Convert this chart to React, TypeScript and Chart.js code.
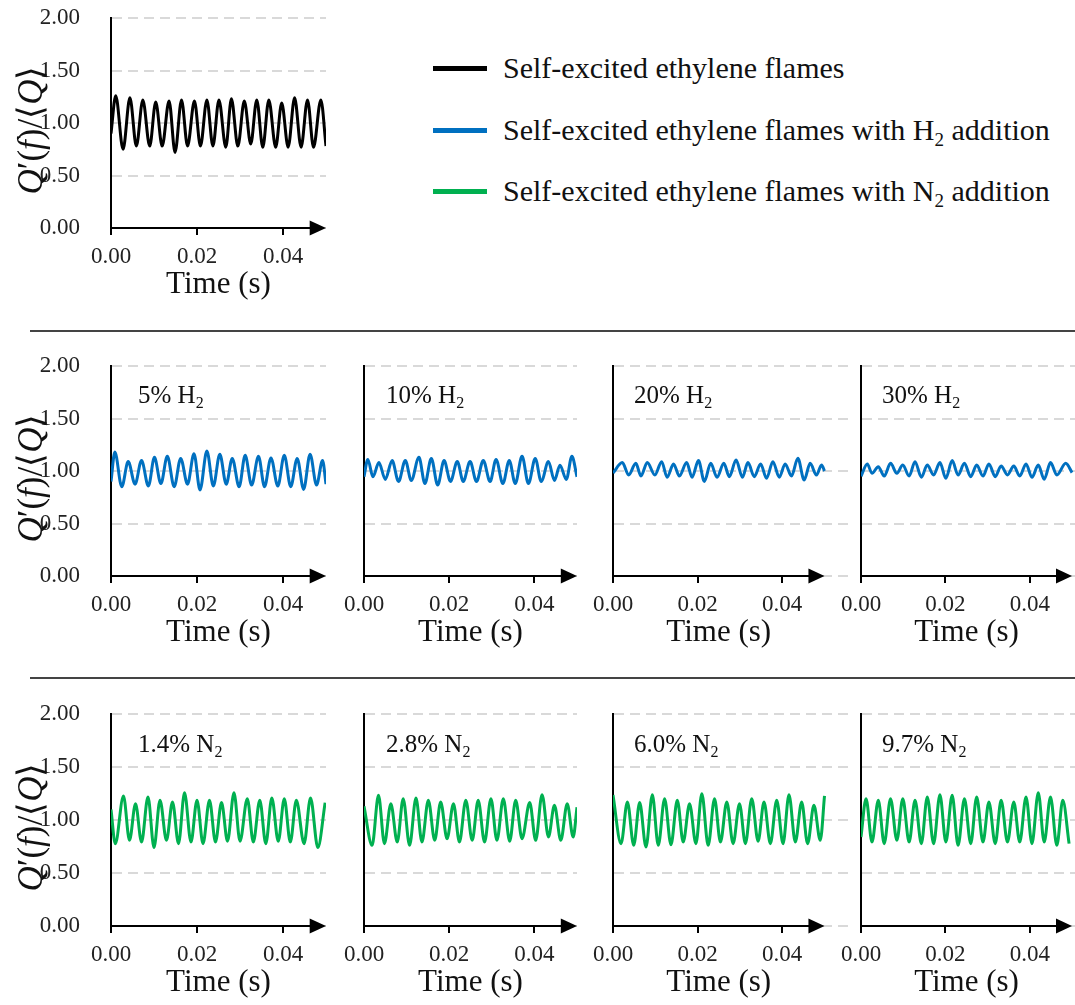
import React, { useEffect, useRef } from "react";
import { Chart, registerables } from "chart.js";
Chart.register(...registerables);

const FONT = '"Liberation Serif", "Times New Roman", serif';

// ---------- axis values / labels ----------
const X_TICKS = [0, 0.02, 0.04];
const Y_TICKS = [0, 0.5, 1.0, 1.5, 2.0];
const X_START = 0;
const X_END = 0.05;
const ARROW_BASE = 0.0462;
const ARROW_TIP = 0.05;
const Y_MIN = 0;
const Y_MAX = 2;
const X_TITLE = "Time (s)";
const Y_TITLE_PARTS: [string, boolean][] = [
  ["Q", true], ["\u2032(", false], ["f", true], [")/\u27E8", false], ["Q", true], ["\u27E9", false],
];

const LEGEND_ITEMS = [
  { pre: "Self-excited ethylene flames", sub: "", post: "" },
  { pre: "Self-excited ethylene flames with H", sub: "2", post: " addition" },
  { pre: "Self-excited ethylene flames with N", sub: "2", post: " addition" },
];
const SERIES_COLORS = ["#000000", "#0070C0", "#00B050"];

const H2_LABELS = ["5%", "10%", "20%", "30%"];
const N2_LABELS = ["1.4%", "2.8%", "6.0%", "9.7%"];

// ---------- data (peak / trough samples) ----------
const tBase = [0, 0.0011, 0.0028, 0.0044, 0.0059, 0.0074, 0.0090, 0.0104, 0.0119, 0.0135, 0.0149, 0.0164, 0.0178, 0.0194, 0.0208, 0.0223, 0.0237, 0.0251, 0.0267, 0.0280, 0.0295, 0.0310, 0.0325, 0.0339, 0.0353, 0.0367, 0.0383, 0.0397, 0.0412, 0.0427, 0.0442, 0.0457, 0.0471, 0.0488, 0.0500];
const qBase = [0.90, 1.26, 0.75, 1.24, 0.78, 1.22, 0.78, 1.20, 0.78, 1.21, 0.72, 1.22, 0.78, 1.21, 0.78, 1.22, 0.78, 1.22, 0.77, 1.23, 0.78, 1.21, 0.80, 1.22, 0.77, 1.22, 0.77, 1.19, 0.77, 1.24, 0.77, 1.22, 0.77, 1.22, 0.78];

const tH2_5 = [0, 0.0009, 0.0025, 0.0040, 0.0056, 0.0071, 0.0087, 0.0101, 0.0116, 0.0131, 0.0147, 0.0162, 0.0178, 0.0193, 0.0207, 0.0223, 0.0238, 0.0253, 0.0268, 0.0282, 0.0298, 0.0312, 0.0327, 0.0343, 0.0357, 0.0372, 0.0388, 0.0403, 0.0418, 0.0433, 0.0448, 0.0463, 0.0478, 0.0492, 0.0500];
const qH2_5 = [0.90, 1.18, 0.85, 1.09, 0.875, 1.10, 0.857, 1.13, 0.88, 1.14, 0.85, 1.12, 0.875, 1.165, 0.82, 1.19, 0.857, 1.16, 0.875, 1.12, 0.85, 1.15, 0.866, 1.14, 0.85, 1.125, 0.857, 1.15, 0.85, 1.12, 0.825, 1.16, 0.866, 1.10, 0.875];

const tH2_10 = [0, 0.0009, 0.0021, 0.0035, 0.0050, 0.0066, 0.0081, 0.0097, 0.0111, 0.0129, 0.0143, 0.0158, 0.0173, 0.0188, 0.0203, 0.0219, 0.0233, 0.0249, 0.0264, 0.0280, 0.0296, 0.0310, 0.0326, 0.0341, 0.0355, 0.0371, 0.0386, 0.0402, 0.0416, 0.0433, 0.0447, 0.0460, 0.0475, 0.0488, 0.0500];
const qH2_10 = [0.945, 1.11, 0.945, 1.08, 0.92, 1.10, 0.90, 1.10, 0.91, 1.13, 0.88, 1.12, 0.866, 1.10, 0.90, 1.09, 0.90, 1.09, 0.90, 1.10, 0.90, 1.11, 0.88, 1.10, 0.88, 1.14, 0.88, 1.12, 0.90, 1.09, 0.91, 1.055, 0.92, 1.14, 0.945];

const tH2_20 = [0, 0.0022, 0.0037, 0.0054, 0.0066, 0.0081, 0.0099, 0.0115, 0.0128, 0.0143, 0.0157, 0.0174, 0.0187, 0.0202, 0.0216, 0.0231, 0.0246, 0.0262, 0.0275, 0.0291, 0.0306, 0.0319, 0.0334, 0.0349, 0.0363, 0.0378, 0.0393, 0.0407, 0.0422, 0.0437, 0.0452, 0.0466, 0.0481, 0.0493, 0.0500];
const qH2_20 = [0.98, 1.08, 0.962, 1.073, 0.952, 1.08, 0.962, 1.089, 0.94, 1.067, 0.952, 1.08, 0.94, 1.099, 0.90, 1.073, 0.94, 1.073, 0.946, 1.105, 0.94, 1.08, 0.946, 1.067, 0.93, 1.089, 0.94, 1.067, 0.952, 1.121, 0.914, 1.073, 0.962, 1.057, 1.0];

const tH2_30 = [0, 0.0015, 0.0026, 0.0041, 0.0055, 0.0070, 0.0085, 0.0099, 0.0114, 0.0128, 0.0143, 0.0157, 0.0172, 0.0187, 0.0201, 0.0216, 0.0230, 0.0245, 0.0260, 0.0274, 0.0289, 0.0303, 0.0318, 0.0332, 0.0347, 0.0362, 0.0376, 0.0391, 0.0405, 0.0420, 0.0434, 0.0449, 0.0464, 0.0485, 0.0500];
const qH2_30 = [0.95, 1.067, 0.978, 1.041, 0.952, 1.073, 0.978, 1.057, 0.952, 1.089, 0.94, 1.057, 0.962, 1.08, 0.93, 1.099, 0.962, 1.073, 0.946, 1.057, 0.952, 1.067, 0.946, 1.048, 0.962, 1.048, 0.952, 1.067, 0.94, 1.057, 0.921, 1.08, 0.962, 1.073, 0.985];

const tN2_14 = [0, 0.0010, 0.0029, 0.0043, 0.0057, 0.0071, 0.0086, 0.0100, 0.0114, 0.0129, 0.0143, 0.0157, 0.0171, 0.0186, 0.0200, 0.0214, 0.0229, 0.0243, 0.0257, 0.0271, 0.0286, 0.0300, 0.0317, 0.0331, 0.0346, 0.0360, 0.0374, 0.0389, 0.0403, 0.0417, 0.0431, 0.0449, 0.0464, 0.0481, 0.0498];
const qN2_14 = [1.10, 0.777, 1.227, 0.808, 1.154, 0.792, 1.217, 0.74, 1.186, 0.808, 1.170, 0.777, 1.258, 0.792, 1.186, 0.777, 1.186, 0.792, 1.164, 0.80, 1.258, 0.80, 1.201, 0.792, 1.186, 0.777, 1.208, 0.80, 1.201, 0.792, 1.186, 0.777, 1.208, 0.74, 1.164];

const tN2_28 = [0, 0.0019, 0.0034, 0.0048, 0.0063, 0.0078, 0.0092, 0.0107, 0.0122, 0.0136, 0.0151, 0.0166, 0.0180, 0.0195, 0.0210, 0.0224, 0.0239, 0.0254, 0.0268, 0.0283, 0.0298, 0.0312, 0.0327, 0.0342, 0.0356, 0.0371, 0.0389, 0.0403, 0.0418, 0.0433, 0.0447, 0.0462, 0.0477, 0.0491, 0.0500];
const qN2_28 = [1.13, 0.761, 1.233, 0.777, 1.154, 0.792, 1.201, 0.761, 1.208, 0.792, 1.186, 0.808, 1.170, 0.824, 1.154, 0.792, 1.186, 0.808, 1.186, 0.792, 1.201, 0.808, 1.201, 0.80, 1.186, 0.824, 1.164, 0.808, 1.239, 0.840, 1.138, 0.808, 1.154, 0.840, 1.12];

const tN2_60 = [0, 0.0019, 0.0034, 0.0049, 0.0063, 0.0078, 0.0093, 0.0107, 0.0122, 0.0137, 0.0152, 0.0166, 0.0181, 0.0196, 0.0210, 0.0225, 0.0240, 0.0254, 0.0269, 0.0284, 0.0299, 0.0313, 0.0328, 0.0343, 0.0357, 0.0372, 0.0387, 0.0402, 0.0416, 0.0431, 0.0446, 0.0460, 0.0475, 0.0490, 0.0500];
const qN2_60 = [1.235, 0.777, 1.170, 0.761, 1.164, 0.745, 1.239, 0.761, 1.201, 0.767, 1.186, 0.792, 1.154, 0.777, 1.248, 0.761, 1.201, 0.792, 1.170, 0.777, 1.154, 0.777, 1.201, 0.80, 1.170, 0.777, 1.186, 0.777, 1.239, 0.792, 1.170, 0.777, 1.138, 0.808, 1.227];

const tN2_97 = [0, 0.0012, 0.0026, 0.0041, 0.0055, 0.0070, 0.0085, 0.0099, 0.0114, 0.0128, 0.0143, 0.0157, 0.0172, 0.0187, 0.0201, 0.0216, 0.0230, 0.0245, 0.0260, 0.0274, 0.0289, 0.0303, 0.0318, 0.0332, 0.0347, 0.0362, 0.0376, 0.0391, 0.0405, 0.0420, 0.0434, 0.0449, 0.0464, 0.0478, 0.0493];
const qN2_97 = [0.84, 1.201, 0.792, 1.186, 0.777, 1.201, 0.808, 1.201, 0.792, 1.186, 0.777, 1.217, 0.777, 1.239, 0.792, 1.233, 0.761, 1.201, 0.777, 1.217, 0.792, 1.170, 0.777, 1.186, 0.792, 1.170, 0.792, 1.217, 0.777, 1.258, 0.792, 1.217, 0.761, 1.186, 0.777];

// ---------- layout (pixels) ----------
const ROW_TOP = [18, 366, 714];     // pixel of y = 2.00
const ROW_BOTTOM = [228, 576, 926]; // pixel of y = 0.00
const COL_X0 = [111, 364, 613, 861];
const COL_PX_PER_S = [4300, 4250, 4230, 4220];
const COL_XMAX = [0.05, 0.05, 0.0565, 0.0507];
const LABEL_DX = [27, 22, 21, 21];
const LABEL_TOP = [0, 380, 729];

type Spec = { t: number[]; q: number[]; color: string; row: number; col: number };

const PANELS: Spec[] = [
  { t: tBase, q: qBase, color: SERIES_COLORS[0], row: 0, col: 0 },
  { t: tH2_5, q: qH2_5, color: SERIES_COLORS[1], row: 1, col: 0 },
  { t: tH2_10, q: qH2_10, color: SERIES_COLORS[1], row: 1, col: 1 },
  { t: tH2_20, q: qH2_20, color: SERIES_COLORS[1], row: 1, col: 2 },
  { t: tH2_30, q: qH2_30, color: SERIES_COLORS[1], row: 1, col: 3 },
  { t: tN2_14, q: qN2_14, color: SERIES_COLORS[2], row: 2, col: 0 },
  { t: tN2_28, q: qN2_28, color: SERIES_COLORS[2], row: 2, col: 1 },
  { t: tN2_60, q: qN2_60, color: SERIES_COLORS[2], row: 2, col: 2 },
  { t: tN2_97, q: qN2_97, color: SERIES_COLORS[2], row: 2, col: 3 },
];

function Panel({ spec }: { spec: Spec }) {
  const ref = useRef<HTMLCanvasElement>(null);
  const { row, col } = spec;
  const x0 = COL_X0[col];
  const plotH = ROW_BOTTOM[row] - ROW_TOP[row];
  const xMax = COL_XMAX[col];
  const plotW = Math.round(xMax * COL_PX_PER_S[col]);
  const leftExt = col === 0 ? x0 : 44;
  const padT = 16;
  const padR = 8;
  const xAxisH = 80;
  const W = leftExt + plotW + padR;
  const H = padT + plotH + xAxisH;
  const left = x0 - leftExt;
  const top = ROW_TOP[row] - padT;

  useEffect(() => {
    const canvas = ref.current;
    if (!canvas) return;
    const decor = {
      id: "decor",
      afterDraw(chart: any) {
        const { ctx } = chart;
        const xs = chart.scales.x;
        const ys = chart.scales.y;
        const y0 = ys.getPixelForValue(Y_MIN);
        const xa = xs.getPixelForValue(X_START);
        const xb = xs.getPixelForValue(ARROW_BASE);
        const xt = xs.getPixelForValue(ARROW_TIP);
        ctx.save();
        ctx.strokeStyle = "#000";
        ctx.lineWidth = 2;
        ctx.beginPath();
        ctx.moveTo(xa - 1, y0);
        ctx.lineTo(xb + 1, y0);
        ctx.stroke();
        ctx.fillStyle = "#000";
        ctx.beginPath();
        ctx.moveTo(xb, y0 - 7.5);
        ctx.lineTo(xt, y0);
        ctx.lineTo(xb, y0 + 7.5);
        ctx.closePath();
        ctx.fill();
        ctx.font = `31px ${FONT}`;
        ctx.textAlign = "center";
        ctx.textBaseline = "middle";
        ctx.fillStyle = "#111";
        ctx.fillText(X_TITLE, xs.getPixelForValue((X_START + X_END) / 2), y0 + 57);
        if (col === 0) {
          const cy = (ys.getPixelForValue(Y_MAX) + y0) / 2 + 7;
          ctx.translate(33, cy);
          ctx.rotate(-Math.PI / 2);
          ctx.textAlign = "left";
          const fonts = Y_TITLE_PARTS.map(([, it]) => `${it ? "italic " : ""}35px ${FONT}`);
          let total = 0;
          const widths = Y_TITLE_PARTS.map(([s], i) => {
            ctx.font = fonts[i];
            const w = ctx.measureText(s).width;
            total += w;
            return w;
          });
          let cx = -total / 2;
          Y_TITLE_PARTS.forEach(([s], i) => {
            ctx.font = fonts[i];
            ctx.fillText(s, cx, 0);
            cx += widths[i];
          });
        }
        ctx.restore();
      },
    };
    const chart = new Chart(canvas, {
      type: "line",
      data: {
        datasets: [
          {
            data: spec.t.map((t, i) => ({ x: t, y: spec.q[i] })),
            borderColor: spec.color,
            borderWidth: 3,
            pointRadius: 0,
            cubicInterpolationMode: "monotone",
            fill: false,
          },
        ],
      },
      options: {
        animation: false,
        responsive: false,
        devicePixelRatio: 1,
        events: [],
        layout: { padding: { left: 0, top: padT, right: padR, bottom: 0 } },
        plugins: { legend: { display: false }, tooltip: { enabled: false } },
        scales: {
          x: {
            type: "linear",
            min: X_START,
            max: xMax,
            afterBuildTicks: (s: any) => {
              s.ticks = X_TICKS.map((v) => ({ value: v }));
            },
            afterFit: (s: any) => {
              s.height = xAxisH;
            },
            ticks: {
              font: { family: FONT, size: 23 },
              color: "#222",
              padding: 8,
              maxRotation: 0,
              autoSkip: false,
              callback: (v: any) => Number(v).toFixed(2),
            },
            grid: {
              drawOnChartArea: false,
              drawTicks: true,
              tickLength: 7,
              tickColor: "#000",
              tickWidth: 2,
              color: "#000",
              lineWidth: 2,
            },
            border: { display: false },
          },
          y: {
            type: "linear",
            min: Y_MIN,
            max: Y_MAX,
            afterBuildTicks: (s: any) => {
              s.ticks = Y_TICKS.map((v) => ({ value: v }));
            },
            afterFit: (s: any) => {
              s.width = leftExt;
            },
            ticks: {
              display: col === 0,
              font: { family: FONT, size: 23 },
              color: "#222",
              padding: 0,
              callback: (v: any) => Number(v).toFixed(2),
            },
            grid: {
              color: "#d9d9d9",
              lineWidth: 2,
              drawTicks: col === 0,
              tickLength: 31,
              tickColor: "rgba(0,0,0,0)",
            },
            border: { display: true, color: "#000", width: 2, dash: [10, 6] },
          },
        },
      } as any,
      plugins: [decor],
    });
    return () => chart.destroy();
  }, []);

  return (
    <canvas
      ref={ref}
      width={W}
      height={H}
      style={{ position: "absolute", left, top, width: W, height: H }}
    />
  );
}

export default function App() {
  const legendY = [68, 130, 191];
  return (
    <div
      style={{
        position: "absolute",
        left: 0,
        top: 0,
        width: 1075,
        height: 1005,
        overflow: "hidden",
        background: "#fff",
        fontFamily: FONT,
        color: "#111",
      }}
    >
      {PANELS.map((p, i) => (
        <Panel key={i} spec={p} />
      ))}
      <div style={{ position: "absolute", left: 30, top: 330, width: 1045, height: 2, background: "#444" }} />
      <div style={{ position: "absolute", left: 30, top: 677, width: 1045, height: 2, background: "#444" }} />
      {LEGEND_ITEMS.map((it, i) => (
        <React.Fragment key={i}>
          <div
            style={{
              position: "absolute",
              left: 433,
              top: legendY[i] - 2.5,
              width: 54,
              height: 5,
              background: SERIES_COLORS[i],
            }}
          />
          <div
            style={{
              position: "absolute",
              left: 503,
              top: legendY[i] - 18,
              fontSize: 30,
              lineHeight: "36px",
              whiteSpace: "nowrap",
            }}
          >
            {it.pre}
            {it.sub ? (
              <span style={{ fontSize: 19, position: "relative", top: 6 }}>{it.sub}</span>
            ) : null}
            {it.post}
          </div>
        </React.Fragment>
      ))}
      {[1, 2].map((row) =>
        (row === 1 ? H2_LABELS : N2_LABELS).map((lab, col) => (
          <div
            key={`${row}-${col}`}
            style={{
              position: "absolute",
              left: COL_X0[col] + LABEL_DX[col],
              top: LABEL_TOP[row],
              fontSize: 25,
              lineHeight: "30px",
              whiteSpace: "nowrap",
            }}
          >
            {lab} {row === 1 ? "H" : "N"}
            <span style={{ fontSize: 16, position: "relative", top: 5 }}>2</span>
          </div>
        ))
      )}
    </div>
  );
}
